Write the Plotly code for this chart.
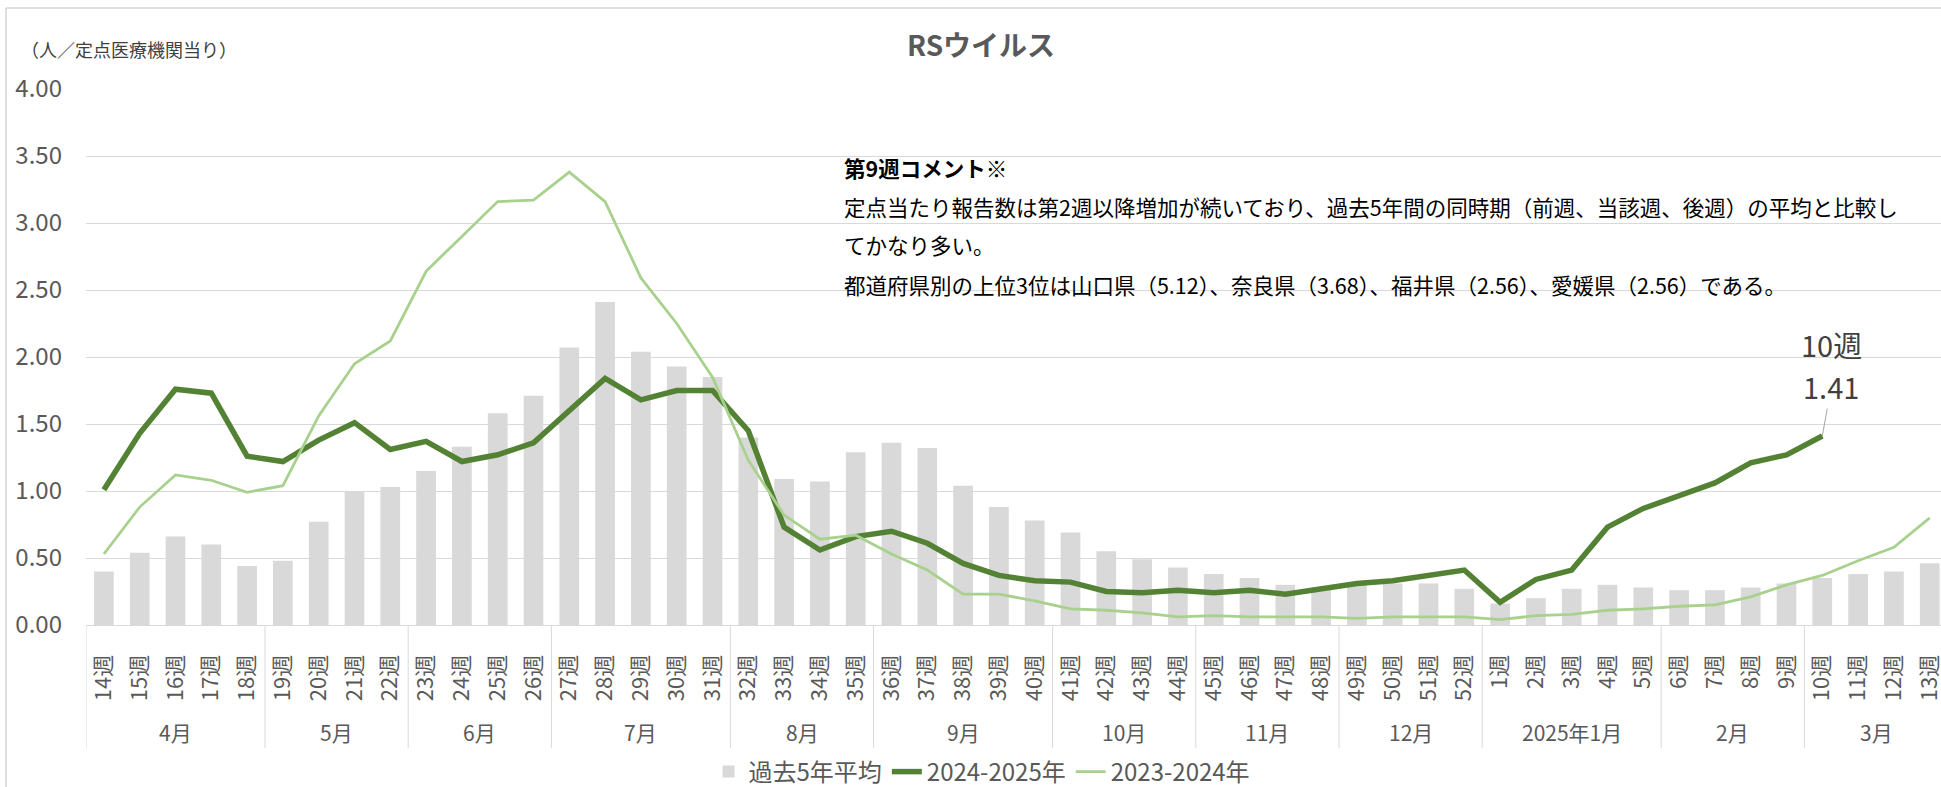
import plotly.graph_objects as go

# ---------------- data ----------------
weeks = [f"{w}週" for w in range(14, 53)] + [f"{w}週" for w in range(1, 14)]
months = ["4月", "5月", "6月", "7月", "8月", "9月", "10月", "11月", "12月", "2025年1月", "2月", "3月"]
month_week_counts = [5, 4, 4, 5, 4, 5, 4, 4, 4, 5, 4, 4]

avg5 = [0.40, 0.54, 0.66, 0.60, 0.44,
        0.48, 0.77, 1.00, 1.03,
        1.15, 1.33, 1.58, 1.71,
        2.07, 2.41, 2.04, 1.93, 1.85,
        1.40, 1.09, 1.07, 1.29,
        1.36, 1.32, 1.04, 0.88, 0.78,
        0.69, 0.55, 0.49, 0.43,
        0.38, 0.35, 0.30, 0.28,
        0.31, 0.31, 0.31, 0.27,
        0.16, 0.20, 0.27, 0.30, 0.28,
        0.26, 0.26, 0.28, 0.31,
        0.35, 0.38, 0.40, 0.46]

y2024_2025 = [1.01, 1.43, 1.76, 1.73, 1.26,
              1.22, 1.38, 1.51, 1.31,
              1.37, 1.22, 1.27, 1.36,
              1.60, 1.84, 1.68, 1.75, 1.75,
              1.45, 0.73, 0.56, 0.66,
              0.70, 0.61, 0.46, 0.37, 0.33,
              0.32, 0.25, 0.24, 0.26,
              0.24, 0.26, 0.23, 0.27,
              0.31, 0.33, 0.37, 0.41,
              0.17, 0.34, 0.41, 0.73, 0.87,
              0.97, 1.06, 1.21, 1.27,
              1.41, None, None, None]

y2023_2024 = [0.53, 0.88, 1.12, 1.08, 0.99,
              1.04, 1.56, 1.95, 2.12,
              2.64, 2.90, 3.16, 3.17,
              3.38, 3.16, 2.59, 2.25, 1.85,
              1.23, 0.82, 0.64, 0.67,
              0.53, 0.41, 0.23, 0.23, 0.18,
              0.12, 0.11, 0.09, 0.06,
              0.07, 0.06, 0.06, 0.06,
              0.05, 0.06, 0.06, 0.06,
              0.04, 0.07, 0.08, 0.11, 0.12,
              0.14, 0.15, 0.21, 0.30,
              0.37, 0.48, 0.58, 0.80]

y_ticks = [0, 0.5, 1.0, 1.5, 2.0, 2.5, 3.0, 3.5, 4.0]

comment_lines = [
    "<b>第9週コメント</b>※",
    "定点当たり報告数は第2週以降増加が続いており、過去5年間の同時期（前週、当該週、後週）の平均と比較し",
    "てかなり多い。",
    "都道府県別の上位3位は山口県（5.12）、奈良県（3.68）、福井県（2.56）、愛媛県（2.56）である。",
]

# ---------------- layout constants ----------------
W, H = 1941, 787
PL, PT, PB = 86, 89, 625          # plot left / top / bottom (pixels)
PW, PH = W - PL, PB - PT
FONT = "Noto Sans CJK JP"
GRID = "#D9D9D9"
TXT = "#595959"


def px_x(px):
    return (px - PL) / PW


def px_y(py):
    return (PB - py) / PH


xi = list(range(len(weeks)))

fig = go.Figure()
fig.add_trace(go.Bar(x=xi, y=avg5, name="過去5年平均", marker_color="#D9D9D9",
                     marker_line_width=0, width=0.55))
fig.add_trace(go.Scatter(x=xi, y=y2024_2025, name="2024-2025年", mode="lines",
                         line=dict(color="#548235", width=5.5), connectgaps=False))
fig.add_trace(go.Scatter(x=xi, y=y2023_2024, name="2023-2024年", mode="lines",
                         line=dict(color="#A9D18E", width=2.8)))

shapes = []
annotations = []

# month groups: separators and labels
start = 0
bounds = [-0.5]
for m, c in zip(months, month_week_counts):
    center = start + (c - 1) / 2
    annotations.append(dict(x=center, xref="x", y=px_y(732), yref="paper", text=m,
                            showarrow=False, font=dict(family=FONT, size=21, color=TXT),
                            xanchor="center", yanchor="middle"))
    start += c
    bounds.append(start - 0.5)
for b in bounds[:-1]:
    shapes.append(dict(type="line", xref="x", yref="paper", x0=b, x1=b,
                       y0=0, y1=px_y(748), line=dict(color=GRID, width=1)))

# chart frame (left & top edges)
shapes.append(dict(type="line", xref="paper", yref="paper", x0=px_x(6), x1=px_x(6),
                   y0=px_y(8), y1=px_y(800), line=dict(color="#BFBFBF", width=1)))
shapes.append(dict(type="line", xref="paper", yref="paper", x0=px_x(6), x1=px_x(1960),
                   y0=px_y(8), y1=px_y(8), line=dict(color="#BFBFBF", width=1)))

# title
annotations.append(dict(x=px_x(981), y=px_y(44), xref="paper", yref="paper",
                        text="<b>RSウイルス</b>", showarrow=False,
                        font=dict(family=FONT, size=28, color=TXT),
                        xanchor="center", yanchor="middle"))
# y axis unit
annotations.append(dict(x=px_x(19), y=px_y(49), xref="paper", yref="paper",
                        text="（人／定点医療機関当り）", showarrow=False,
                        font=dict(family=FONT, size=18, color="#404040"),
                        xanchor="left", yanchor="middle"))
# comment box
for i, line in enumerate(comment_lines):
    annotations.append(dict(x=px_x(842), y=px_y(167 + 39 * i), xref="paper", yref="paper",
                            text=line, showarrow=False,
                            font=dict(family=FONT, size=21.5, color="#000000"),
                            xanchor="left", yanchor="middle"))

# data label for latest point
last_i = max(i for i, v in enumerate(y2024_2025) if v is not None)
annotations.append(dict(x=last_i, y=y2024_2025[last_i], xref="x", yref="y",
                        text=weeks[last_i], showarrow=False, xshift=9, yshift=92,
                        font=dict(family=FONT, size=29, color="#404040"),
                        xanchor="center", yanchor="middle"))
annotations.append(dict(x=last_i, y=y2024_2025[last_i], xref="x", yref="y",
                        text=f"{y2024_2025[last_i]:.2f}", showarrow=True, arrowhead=0,
                        arrowwidth=1, arrowcolor="#A6A6A6", ax=9, ay=-50, standoff=0,
                        font=dict(family=FONT, size=29, color="#404040")))

fig.update_layout(
    width=W, height=H, autosize=False,
    margin=dict(l=PL, r=0, t=PT, b=H - PB, pad=0, autoexpand=False),
    paper_bgcolor="white", plot_bgcolor="white",
    font=dict(family=FONT, color=TXT),
    bargap=0.45,
    showlegend=True,
    legend=dict(orientation="h", x=px_x(982), xanchor="center", y=px_y(772),
                yanchor="middle", font=dict(family=FONT, size=24, color=TXT),
                bgcolor="rgba(0,0,0,0)", itemwidth=30, traceorder="normal"),
    shapes=shapes, annotations=annotations,
)
fig.update_xaxes(range=[-0.5, -0.5 + PW / 35.8], tickmode="array", tickvals=xi,
                 ticktext=weeks, tickangle=-90, ticks="", showgrid=False,
                 showline=True, linecolor=GRID, linewidth=1, zeroline=False,
                 tickfont=dict(family=FONT, size=22, color=TXT), ticklabelstandoff=20,
                 ticklabeloverflow="allow", automargin=False, fixedrange=True)
fig.update_yaxes(range=[0, 4], tickvals=y_ticks, tickformat=".2f", ticks="",
                 showgrid=True, gridcolor=GRID, gridwidth=1.2, zeroline=False,
                 showline=False, tickfont=dict(family=FONT, size=24, color=TXT),
                 ticklabelstandoff=23, automargin=False)

fig.write_html("out.html", config={"displayModeBar": False},
               post_script="document.body.style.margin='0';document.body.style.overflow='hidden';")
